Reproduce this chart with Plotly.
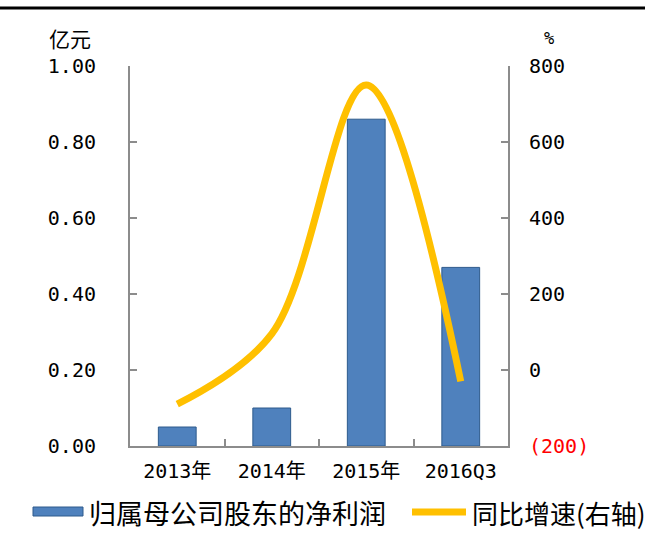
import plotly.graph_objects as go

categories = ["2013年", "2014年", "2015年", "2016Q3"]
net_profit = [0.05, 0.10, 0.86, 0.47]          # 亿元
yoy_growth = [-90, 95, 750, -30]                # %

left_ticks = [0, 0.2, 0.4, 0.6, 0.8, 1.0]
right_ticks = [-200, 0, 200, 400, 600, 800]
right_ticktext = ["<span style='color:#FF0000'>(200)</span>", "0", "200", "400", "600", "800"]

series_names = ["归属母公司股东的净利润", "同比增速(右轴)"]

W, H = 655, 537
L, R, T, B = 130, 508, 66, 446
pw, ph = R - L, B - T

def px(x):
    return (x - L) / pw

def py(y):
    return (B - y) / ph

CJK = "Noto Sans CJK SC"
MONO = "DejaVu Sans Mono, Noto Sans CJK SC"
BAR_COLOR = "#4F81BD"
BAR_EDGE = "#2E5A8C"
LINE_COLOR = "#FFC000"

fig = go.Figure()
fig.add_trace(go.Bar(
    x=categories, y=net_profit, name=series_names[0],
    marker=dict(color=BAR_COLOR, line=dict(color=BAR_EDGE, width=1)),
    width=0.4, yaxis="y",
))
fig.add_trace(go.Scatter(
    x=categories, y=yoy_growth, name=series_names[1], mode="lines",
    line=dict(color=LINE_COLOR, width=7, shape="spline", smoothing=1.0),
    yaxis="y2",
))

axis_common = dict(showgrid=False, zeroline=False, showline=True, linecolor="#8C8C8C",
                   linewidth=2, ticks="inside", ticklen=7, tickcolor="#8C8C8C", tickwidth=2,
                   tickfont=dict(family=MONO, size=20, color="black"), automargin=False)

fig.update_layout(
    width=W, height=H,
    margin=dict(l=L, r=W - R, t=T, b=H - B),
    plot_bgcolor="white", paper_bgcolor="white",
    font=dict(family=CJK, color="black"),
    showlegend=False,
    xaxis=dict(showgrid=False, showline=True, linecolor="#8C8C8C", linewidth=2,
               ticks="inside", ticklen=7, tickcolor="#8C8C8C", tickwidth=2,
               tickson="boundaries", ticklabelstandoff=6, automargin=False,
               tickfont=dict(family=MONO, size=20, color="black")),
    yaxis=dict(range=[0, 1], tickvals=left_ticks, tickformat=".2f",
               ticklabelstandoff=28, **axis_common),
    yaxis2=dict(range=[-200, 800], overlaying="y", side="right",
                tickvals=right_ticks, ticktext=right_ticktext,
                ticklabelstandoff=15, **axis_common),
)

# axis unit titles
fig.add_annotation(text="亿元", xref="paper", yref="paper", x=px(70), y=py(38),
                   xanchor="center", yanchor="middle",
                   showarrow=False, font=dict(family=CJK, size=21, color="black"))
fig.add_annotation(text="%", xref="paper", yref="paper", x=px(549), y=py(38),
                   xanchor="center", yanchor="middle",
                   showarrow=False, font=dict(family=MONO, size=17, color="black"))

# top rule
fig.add_shape(type="line", xref="paper", yref="paper",
              x0=px(0), x1=px(645), y0=py(8), y1=py(8),
              line=dict(color="black", width=3))

# custom legend
fig.add_shape(type="rect", xref="paper", yref="paper",
              x0=px(33), x1=px(83), y0=py(516), y1=py(507),
              fillcolor=BAR_COLOR, line=dict(color=BAR_EDGE, width=1))
fig.add_annotation(text=series_names[0], xref="paper", yref="paper",
                   x=px(87), y=py(512), xanchor="left", yanchor="middle",
                   showarrow=False, font=dict(family=CJK, size=27, color="black"))
fig.add_shape(type="line", xref="paper", yref="paper",
              x0=px(412), x1=px(466), y0=py(512), y1=py(512),
              line=dict(color=LINE_COLOR, width=7))
fig.add_annotation(text=series_names[1], xref="paper", yref="paper",
                   x=px(470), y=py(512), xanchor="left", yanchor="middle",
                   showarrow=False, font=dict(family=CJK, size=26, color="black"))

fig.write_html("out.html")
